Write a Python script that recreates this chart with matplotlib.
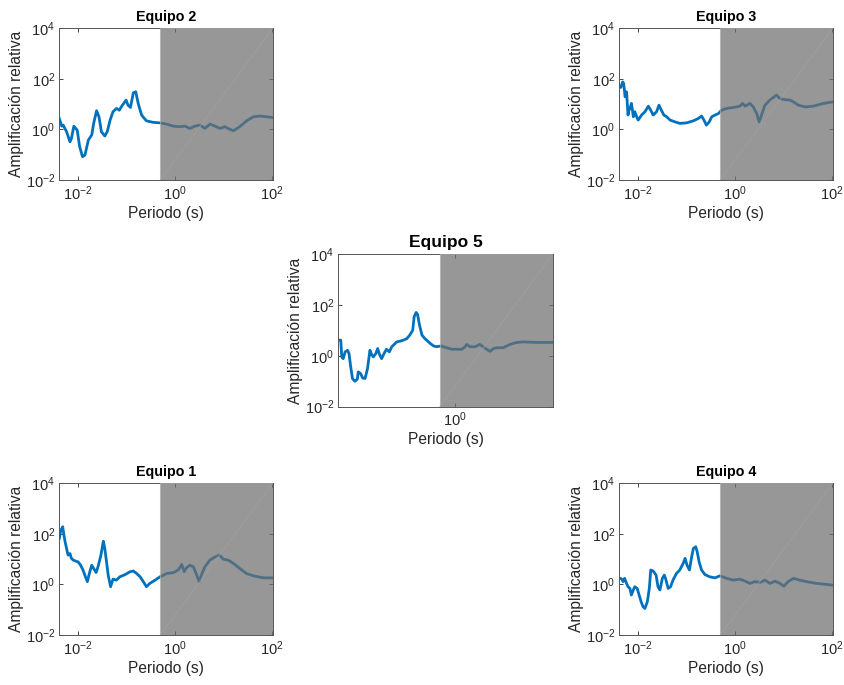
import numpy as np
import matplotlib
matplotlib.use('Agg')
from matplotlib import pyplot as plt

plt.rcParams['font.family'] = ['Liberation Sans', 'DejaVu Sans']
plt.rcParams['mathtext.fontset'] = 'custom'
plt.rcParams['mathtext.rm'] = 'Liberation Sans'
plt.rcParams['axes.unicode_minus'] = False

# datos (exponentes log10 de periodo y amplificacion)
logT_eq2 = [-2.39, -2.34, -2.31, -2.24, -2.17, -2.14, -2.09, -2.02, -1.97, -1.91,
            -1.86, -1.79, -1.72, -1.68, -1.62, -1.57, -1.52, -1.45, -1.40, -1.34,
            -1.28, -1.21, -1.15, -1.10, -1.01, -0.97, -0.92, -0.86, -0.81, -0.76,
            -0.69, -0.59, -0.45, -0.31, -0.17, -0.03, 0.10, 0.21, 0.31, 0.41,
            0.52, 0.62, 0.72, 0.83, 0.93, 1.03, 1.14, 1.21, 1.34, 1.48,
            1.62, 1.76, 1.90, 2.02]
logA_eq2 = [0.43, 0.13, 0.17, -0.09, -0.49, -0.36, 0.13, -0.03, -0.68, -1.08,
            -1.01, -0.42, -0.22, 0.24, 0.74, 0.50, -0.09, -0.26, -0.09, 0.37,
            0.70, 0.83, 0.76, 0.92, 1.16, 0.96, 0.87, 1.45, 1.49, 1.03,
            0.57, 0.34, 0.28, 0.26, 0.21, 0.13, 0.11, 0.13, 0.04, 0.13,
            0.17, 0.04, 0.21, 0.13, 0.04, 0.11, 0.00, -0.05, 0.11, 0.34,
            0.50, 0.53, 0.50, 0.47]

logT_eq3 = [-2.39, -2.36, -2.32, -2.30, -2.27, -2.24, -2.21, -2.19, -2.17, -2.14,
            -2.12, -2.10, -2.07, -2.03, -2.00, -1.93, -1.86, -1.79, -1.74, -1.69,
            -1.62, -1.57, -1.52, -1.47, -1.41, -1.34, -1.24, -1.14, -1.00, -0.86,
            -0.76, -0.69, -0.64, -0.59, -0.53, -0.48, -0.41, -0.34, -0.28, -0.17,
            -0.03, 0.10, 0.16, 0.21, 0.31, 0.38, 0.45, 0.50, 0.55, 0.62,
            0.72, 0.86, 0.93, 1.03, 1.14, 1.21, 1.31, 1.45, 1.62, 1.83,
            2.02]
logA_eq3 = [1.71, 1.66, 1.88, 1.82, 1.29, 1.49, 0.57, 0.76, 0.83, 1.03,
            0.79, 0.50, 0.70, 0.50, 0.37, 0.57, 0.70, 0.92, 0.76, 0.57,
            0.70, 0.96, 0.76, 0.57, 0.50, 0.37, 0.30, 0.24, 0.26, 0.34,
            0.43, 0.53, 0.37, 0.17, 0.30, 0.50, 0.57, 0.63, 0.76, 0.83,
            0.87, 0.92, 1.03, 0.92, 1.03, 0.89, 0.63, 0.30, 0.57, 0.96,
            1.16, 1.36, 1.22, 1.18, 1.16, 1.09, 0.96, 0.89, 0.92, 1.03,
            1.09]

logT_eq5 = [-2.39, -2.34, -2.32, -2.29, -2.25, -2.20, -2.17, -2.14, -2.10, -2.05,
            -2.00, -1.98, -1.93, -1.89, -1.84, -1.79, -1.74, -1.70, -1.67, -1.62,
            -1.58, -1.55, -1.50, -1.45, -1.40, -1.34, -1.29, -1.22, -1.19, -1.12,
            -1.05, -0.98, -0.92, -0.86, -0.83, -0.79, -0.76, -0.72, -0.67, -0.61,
            -0.50, -0.43, -0.37, -0.28, -0.16, -0.05, 0.04, 0.15, 0.22, 0.25,
            0.32, 0.42, 0.52, 0.59, 0.66, 0.73, 0.80, 0.87, 1.00, 1.14,
            1.28, 1.42, 1.69, 2.02]
logA_eq5 = [0.62, 0.62, -0.04, -0.11, 0.16, 0.22, 0.09, -0.37, -0.89, -1.00,
            -0.92, -0.63, -0.70, -0.87, -0.89, -0.50, 0.22, 0.03, -0.04, 0.09,
            0.29, 0.09, -0.11, 0.09, 0.26, 0.16, 0.36, 0.49, 0.55, 0.58,
            0.62, 0.68, 0.82, 1.01, 1.54, 1.71, 1.63, 1.21, 0.82, 0.68,
            0.49, 0.39, 0.36, 0.39, 0.32, 0.26, 0.26, 0.26, 0.36, 0.45,
            0.36, 0.36, 0.45, 0.36, 0.26, 0.18, 0.29, 0.32, 0.32, 0.45,
            0.53, 0.55, 0.53, 0.53]

logT_eq1 = [-2.39, -2.36, -2.32, -2.30, -2.27, -2.24, -2.21, -2.17, -2.14, -2.10,
            -2.05, -2.00, -1.95, -1.90, -1.85, -1.81, -1.77, -1.72, -1.68, -1.63,
            -1.59, -1.53, -1.48, -1.45, -1.41, -1.38, -1.33, -1.28, -1.21, -1.14,
            -1.03, -0.93, -0.86, -0.79, -0.72, -0.66, -0.59, -0.52, -0.41, -0.31,
            -0.17, -0.03, 0.07, 0.14, 0.19, 0.24, 0.31, 0.38, 0.45, 0.50,
            0.55, 0.62, 0.72, 0.83, 0.92, 1.00, 1.10, 1.21, 1.34, 1.48,
            1.62, 1.83, 2.02]
logA_eq1 = [1.82, 2.14, 2.28, 2.01, 1.68, 1.42, 1.16, 1.22, 1.03, 0.96,
            0.92, 0.89, 0.76, 0.57, 0.30, 0.11, 0.43, 0.76, 0.63, 0.47,
            0.70, 1.16, 1.71, 1.42, 0.83, 0.37, -0.09, 0.21, 0.17, 0.30,
            0.39, 0.50, 0.53, 0.43, 0.30, 0.13, -0.09, 0.04, 0.17, 0.30,
            0.43, 0.47, 0.57, 0.79, 0.50, 0.66, 0.76, 0.70, 0.37, 0.11,
            0.39, 0.70, 0.96, 1.09, 1.16, 1.00, 0.96, 0.83, 0.63, 0.43,
            0.34, 0.26, 0.26]

logT_eq4 = [-2.39, -2.34, -2.31, -2.28, -2.24, -2.21, -2.17, -2.14, -2.10, -2.07,
            -2.02, -1.98, -1.94, -1.90, -1.86, -1.81, -1.77, -1.74, -1.69, -1.63,
            -1.59, -1.55, -1.50, -1.46, -1.43, -1.38, -1.33, -1.28, -1.21, -1.14,
            -1.07, -1.03, -0.99, -0.94, -0.90, -0.86, -0.81, -0.78, -0.74, -0.69,
            -0.62, -0.52, -0.41, -0.31, -0.17, -0.03, 0.10, 0.21, 0.31, 0.41,
            0.52, 0.62, 0.72, 0.83, 0.93, 1.01, 1.10, 1.21, 1.34, 1.48,
            1.69, 1.90, 2.02]
logA_eq4 = [0.26, 0.21, 0.11, 0.24, 0.04, -0.09, -0.16, -0.42, -0.22, -0.09,
            -0.16, -0.42, -0.68, -0.88, -0.95, -0.68, -0.16, 0.57, 0.53, 0.37,
            -0.09, -0.22, 0.24, 0.37, 0.21, -0.16, -0.09, 0.17, 0.43, 0.57,
            0.83, 1.03, 0.76, 0.57, 1.03, 1.42, 1.49, 1.29, 0.89, 0.57,
            0.39, 0.30, 0.26, 0.34, 0.24, 0.17, 0.21, 0.13, 0.04, 0.11,
            0.08, 0.17, 0.04, 0.13, 0.04, -0.07, 0.11, 0.24, 0.17, 0.11,
            0.04, 0.00, -0.03]

t_corte = 0.5              # inicio de la zona sombreada (s)
x_lim = (10**-2.39, 10**2.02)
y_lim = (1e-2, 1e4)

paneles = [
    ('Equipo 2', logT_eq2, logA_eq2, [0.0702, 0.7372, 0.2525, 0.2215], [1e-2, 1e0, 1e2], 10.3),
    ('Equipo 3', logT_eq3, logA_eq3, [0.7329, 0.7372, 0.2525, 0.2215], [1e-2, 1e0, 1e2], 10.3),
    ('Equipo 5', logT_eq5, logA_eq5, [0.4004, 0.4063, 0.2537, 0.2225], [1e0], 12.5),
    ('Equipo 1', logT_eq1, logA_eq1, [0.0702, 0.0730, 0.2525, 0.2215], [1e-2, 1e0, 1e2], 10.3),
    ('Equipo 4', logT_eq4, logA_eq4, [0.7329, 0.0730, 0.2525, 0.2215], [1e-2, 1e0, 1e2], 10.3),
]

txt = '#262626'
fig = plt.figure(figsize=(8.45, 6.85), dpi=100)

for titulo, lt, la, pos, xt, tsize in paneles:
    ax = fig.add_axes(pos)
    ax.plot(10**np.array(lt), 10**np.array(la), color='#0072BD', lw=2.0, zorder=2)
    ax.set_xscale('log')
    ax.set_yscale('log')
    ax.set_xlim(*x_lim)
    ax.set_ylim(*y_lim)
    # zona sombreada semitransparente
    ax.axvspan(t_corte, x_lim[1], facecolor='#6f6f6f', alpha=0.72,
               edgecolor='#b0b0b0', lw=0.8, zorder=3)
    ax.plot([t_corte, x_lim[1]], [y_lim[0], y_lim[1]], color='#a0a0a0',
            lw=0.5, zorder=4)
    ax.set_xticks(xt)
    ax.set_yticks([1e-2, 1e0, 1e2, 1e4])
    ax.minorticks_off()
    ax.tick_params(direction='in', length=3, width=0.6, top=True, right=True,
                   labelsize=10.5, colors=txt, pad=3)
    for s in ax.spines.values():
        s.set_color('#555555')
        s.set_linewidth(0.7)
    ax.set_title(titulo, fontsize=tsize, fontweight='bold', color='black', pad=5)
    ax.set_xlabel('Periodo (s)', fontsize=11.2, color=txt, labelpad=2)
    ax.set_ylabel('Amplificación relativa', fontsize=11.2, color=txt, labelpad=1)

fig.savefig('out.png', dpi=100)
